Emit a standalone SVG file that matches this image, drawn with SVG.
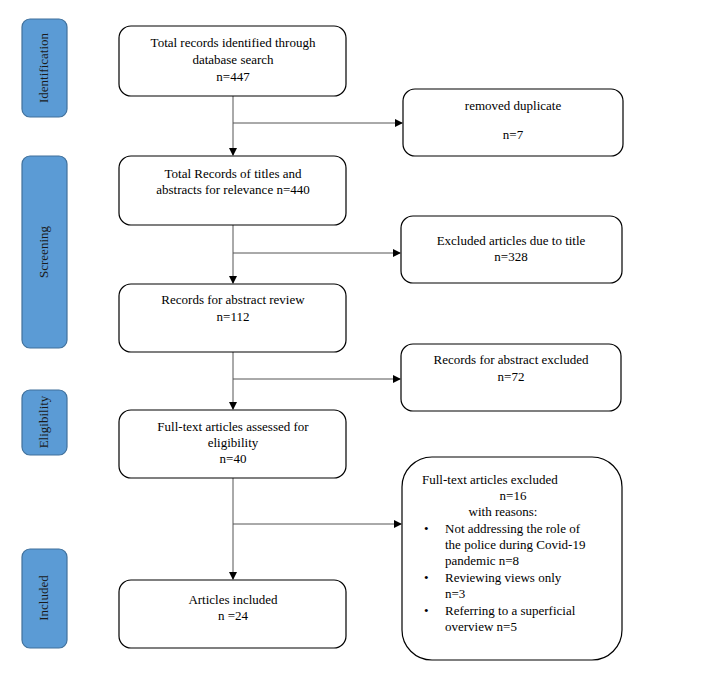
<svg xmlns="http://www.w3.org/2000/svg" width="707" height="677" viewBox="0 0 707 677">
<style>
.side{fill:#5b9bd5;stroke:#41719c;stroke-width:1.2}
.box{fill:#fff;stroke:#000;stroke-width:1.2}
text{font-family:"Liberation Serif",serif;font-size:13px;fill:#000}
.c{text-anchor:middle}
.sl{font-size:13px;fill:#1a1a1a;text-anchor:middle}
.ln{stroke:#555;stroke-width:1;fill:none}
</style>
<defs><marker id="a" markerWidth="8" markerHeight="8" refX="7" refY="4" orient="auto" markerUnits="userSpaceOnUse"><path d="M0,0 L8,4 L0,8 Z" fill="#000"/></marker></defs>
<rect width="707" height="677" fill="#fff"/>
<g id="phase-identification"><rect class="side" x="22" y="19" width="45" height="98" rx="8"/><text class="sl" transform="translate(48,68) rotate(-90)">Identification</text></g>
<g id="phase-screening"><rect class="side" x="22" y="156" width="45" height="192" rx="8"/><text class="sl" transform="translate(48,252) rotate(-90)">Screening</text></g>
<g id="phase-eligibility"><rect class="side" x="22" y="390" width="45" height="65" rx="8"/><text class="sl" transform="translate(48,422) rotate(-90)">Eligibility</text></g>
<g id="phase-included"><rect class="side" x="22" y="549" width="45" height="99" rx="8"/><text class="sl" transform="translate(48,598) rotate(-90)">Included</text></g>
<g id="connectors">
<path class="ln" d="M233,96 V155" marker-end="url(#a)"/>
<path class="ln" d="M233,123 H402" marker-end="url(#a)"/>
<path class="ln" d="M233,225 V283" marker-end="url(#a)"/>
<path class="ln" d="M233,253 H400" marker-end="url(#a)"/>
<path class="ln" d="M233,352 V409" marker-end="url(#a)"/>
<path class="ln" d="M233,379 H400" marker-end="url(#a)"/>
<path class="ln" d="M233,478 V579" marker-end="url(#a)"/>
<path class="ln" d="M233,524 H401" marker-end="url(#a)"/>
</g>
<g id="n1"><rect class="box" x="119" y="26" width="227" height="70" rx="12"/><text class="c" x="233" y="47">Total records identified through</text><text class="c" x="233" y="64">database search</text><text class="c" x="233" y="81">n=447</text></g>
<g id="n2"><rect class="box" x="119" y="156" width="227" height="69" rx="12"/><text class="c" x="233" y="178">Total Records of titles and</text><text class="c" x="233" y="194">abstracts for relevance   n=440</text></g>
<g id="n3"><rect class="box" x="119" y="284" width="227" height="68" rx="12"/><text class="c" x="233" y="304">Records for abstract review</text><text class="c" x="233" y="321">n=112</text></g>
<g id="n4"><rect class="box" x="119" y="410" width="227" height="68" rx="12"/><text class="c" x="233" y="431">Full-text articles assessed for</text><text class="c" x="233" y="447">eligibility</text><text class="c" x="233" y="463">n=40</text></g>
<g id="n5"><rect class="box" x="119" y="580" width="227" height="68" rx="12"/><text class="c" x="233" y="604">Articles included</text><text class="c" x="233" y="620">n =24</text></g>
<g id="r1"><rect class="box" x="403" y="89" width="220" height="67" rx="12"/><text class="c" x="513" y="110">removed duplicate</text><text class="c" x="513" y="139">n=7</text></g>
<g id="r2"><rect class="box" x="401" y="216" width="221" height="67" rx="12"/><text class="c" x="511" y="245">Excluded articles due to title</text><text class="c" x="511" y="261">n=328</text></g>
<g id="r3"><rect class="box" x="401" y="344" width="220" height="67" rx="12"/><text class="c" x="511" y="364">Records for abstract excluded</text><text class="c" x="511" y="381">n=72</text></g>
<g id="r4"><rect class="box" x="402" y="457" width="220" height="203" rx="30"/>
<text x="422" y="484">Full-text articles excluded</text>
<text class="c" x="513" y="500">n=16</text>
<text class="c" x="503" y="516">with reasons:</text>
<text x="424" y="533">•</text><text x="445" y="533">Not addressing the role of</text>
<text x="445" y="549">the police during Covid-19</text>
<text x="445" y="565">pandemic n=8</text>
<text x="424" y="582">•</text><text x="445" y="582">Reviewing views only</text>
<text x="445" y="598">n=3</text>
<text x="424" y="615">•</text><text x="445" y="615">Referring to a superficial</text>
<text x="445" y="631">overview n=5</text>
</g>
</svg>
